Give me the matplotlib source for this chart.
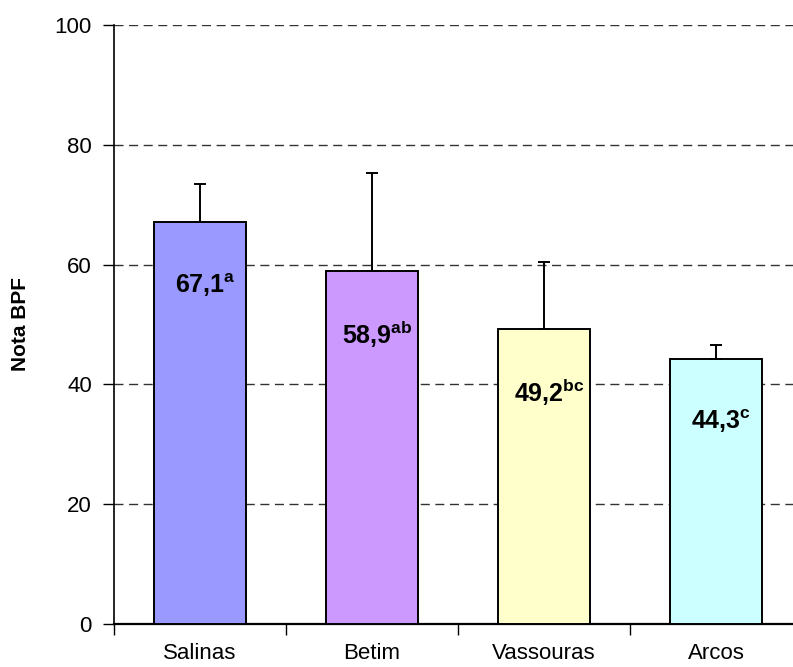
import numpy as np
import matplotlib.pyplot as plt

plt.rcParams['font.family'] = ['Liberation Sans', 'DejaVu Sans']
plt.rcParams['mathtext.fontset'] = 'custom'
plt.rcParams['mathtext.rm'] = 'Liberation Sans'
plt.rcParams['mathtext.bf'] = 'Liberation Sans:bold'

# Mean BPF score per region, upper error and significance letters
regions = ['Salinas', 'Betim', 'Vassouras', 'Arcos']
scores = [67.1, 58.9, 49.2, 44.3]
errors = [6.4, 16.4, 11.2, 2.2]
letters = ['a', 'ab', 'bc', 'c']
colors = ['#9999FF', '#CC99FF', '#FFFFCC', '#CCFFFF']

fig = plt.figure(figsize=(7.93, 6.67), dpi=100)
# axes runs a little past the right edge of the figure
ax = fig.add_axes([0.1438, 0.0645, 0.8676, 0.898])

x = np.arange(len(regions))
ax.bar(x, scores, width=0.53, color=colors, edgecolor='black', linewidth=1.4,
       yerr=[np.zeros(len(errors)), errors], capsize=4.5,
       error_kw={'elinewidth': 1.4, 'capthick': 1.4, 'ecolor': 'black'},
       zorder=3)

for xi, val, let in zip(x, scores, letters):
    txt = ('%.1f' % val).replace('.', '{,}')
    ax.text(xi + 0.03, val - 10.5, r'$\mathbf{%s}^{\mathbf{%s}}$' % (txt, let),
            ha='center', va='center', fontsize=18, zorder=4)

ax.set_xlim(-0.5, 3.5)
ax.set_ylim(0, 100)
ax.set_yticks(np.arange(0, 101, 20))
ax.yaxis.grid(True, linestyle=(0, (6.5, 4)), color='#333333', linewidth=1.0)
ax.set_axisbelow(True)

ax.set_xticks(x)
ax.set_xticklabels(regions)
ax.set_xticks(np.arange(-0.5, 3.6, 1), minor=True)
ax.tick_params(axis='x', which='major', length=0, pad=14, labelsize=16)
ax.tick_params(axis='x', which='minor', length=8, width=1, direction='out')
ax.tick_params(axis='y', length=8, width=1, direction='out', pad=8,
               labelsize=16)

ax.spines['top'].set_visible(False)
ax.spines['right'].set_visible(False)
ax.spines['left'].set_linewidth(1.2)
ax.spines['bottom'].set_linewidth(1.6)

ax.set_ylabel('Nota BPF', fontsize=15, fontweight='bold', labelpad=18)

fig.savefig('out.png', dpi=100)
